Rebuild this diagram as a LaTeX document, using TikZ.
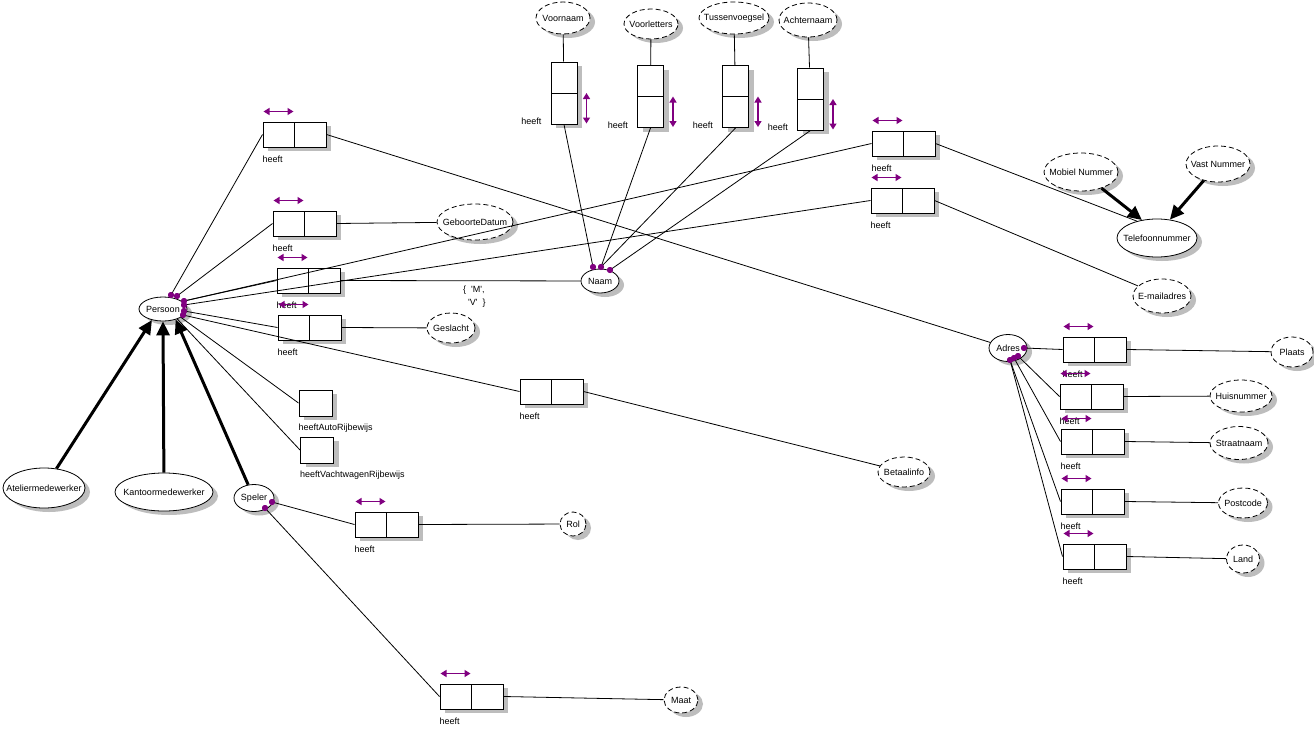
\documentclass[tikz,border=0pt]{standalone}
\usepackage{fontspec}
\setmainfont{Liberation Sans}
\usetikzlibrary{shapes.geometric,arrows.meta}
\definecolor{orm}{HTML}{800080}
\definecolor{shd}{HTML}{BDBDBD}
\tikzset{
 shadowof/.style={fill=shd,draw=none,xshift=5pt,yshift=-4pt},
 ent/.style={ellipse,draw,fill=white,inner sep=0pt,line width=0.8pt},
 val/.style={ent,dash pattern=on 5pt off 3pt},
 lbl/.style={inner sep=0pt},
 hshape/.style={rectangle,minimum width=63pt,minimum height=25pt,inner sep=0pt},
 vshape/.style={rectangle,minimum width=26pt,minimum height=62pt,inner sep=0pt},
 ushape/.style={rectangle,minimum width=33pt,minimum height=26pt,inner sep=0pt},
 hbox/.style={hshape,draw,fill=white,line width=1pt,
   path picture={\draw[line width=1pt] (path picture bounding box.north)--(path picture bounding box.south);}},
 vbox/.style={vshape,draw,fill=white,line width=1pt,
   path picture={\draw[line width=1pt] (path picture bounding box.west)--(path picture bounding box.east);}},
 ubox/.style={ushape,draw,fill=white,line width=1pt},
 lnk/.style={line width=0.8pt},
 sub/.style={line width=3pt,-{Triangle[width=13pt,length=14pt]}},
 uc/.style={orm,line width=1.4pt,{Triangle[width=7pt,length=6pt]}-{Triangle[width=7pt,length=6pt]}},
 pdot/.style={circle,fill=orm,inner sep=0pt,minimum size=6pt},
 hl/.style={anchor=north west,inner sep=0pt,yshift=-8.5pt},
 vhl/.style={anchor=base east,inner sep=0pt,xshift=-9pt},
}
% #1 kind (ent/val), #2 width, #3 height, #4 name, #5 position, #6 text
\newcommand\ellnode[6]{%
  \node[ellipse,inner sep=0pt,minimum width=#2,minimum height=#3,shadowof] at #5 {};
  \node[#1,minimum width=#2,minimum height=#3,label={[lbl]center:#6}] (#4) at #5 {};}
% #1 kind (h/v/u), #2 name, #3 position
\newcommand\factnode[3]{%
  \node[#1shape,shadowof] at #3 {};
  \node[#1box] (#2) at #3 {};}
\begin{document}
\begin{tikzpicture}[x=1pt,y=-1pt,every node/.style={font=\fontsize{9}{10}\selectfont}]
\useasboundingbox[fill=white] (0,0) rectangle (1314,736);

% ---------- entity and value ellipses ----------
\ellnode{ent}{48pt}{24pt}{persoon}{(163,309)}{Persoon}
\ellnode{ent}{82pt}{40pt}{atelier}{(44,488)}{Ateliermedewerker}
\ellnode{ent}{98pt}{38pt}{kantoor}{(164,492)}{Kantoormedewerker}
\ellnode{ent}{40pt}{27pt}{speler}{(254,498)}{Speler}
\ellnode{ent}{38pt}{24pt}{naam}{(600,281)}{Naam}
\ellnode{ent}{80pt}{38pt}{telefoon}{(1157,238)}{Telefoonnummer}
\ellnode{ent}{38pt}{27pt}{adres}{(1008,348)}{Adres}
\ellnode{val}{76pt}{36pt}{geboorte}{(475,222)}{GeboorteDatum}
\ellnode{val}{48pt}{30pt}{geslacht}{(451,328)}{Geslacht}
\ellnode{val}{52pt}{30pt}{betaal}{(904,472)}{Betaalinfo}
\ellnode{val}{26pt}{24pt}{rol}{(573,524)}{Rol}
\ellnode{val}{34pt}{26pt}{maat}{(681,700)}{Maat}
\ellnode{val}{54pt}{32pt}{voornaam}{(563,18)}{Voornaam}
\ellnode{val}{54pt}{30pt}{voorletters}{(651,24)}{Voorletters}
\ellnode{val}{70pt}{32pt}{tussen}{(734,18)}{Tussenvoegsel}
\ellnode{val}{58pt}{34pt}{achter}{(808,20)}{Achternaam}
\ellnode{val}{74pt}{38pt}{mobiel}{(1081,172)}{Mobiel Nummer}
\ellnode{val}{64pt}{36pt}{vast}{(1218,164)}{Vast Nummer}
\ellnode{val}{58pt}{34pt}{email}{(1162,296)}{E-mailadres}
\ellnode{val}{42pt}{30pt}{plaats}{(1292,352)}{Plaats}
\ellnode{val}{62pt}{32pt}{huis}{(1241,396)}{Huisnummer}
\ellnode{val}{58pt}{33pt}{straat}{(1239,443)}{Straatnaam}
\ellnode{val}{49pt}{30pt}{postcode}{(1243,503)}{Postcode}
\ellnode{val}{33pt}{28pt}{land}{(1243,559)}{Land}

% ---------- fact type boxes ----------
\factnode{h}{b1}{(294.5,134.5)}
\factnode{h}{b2}{(304.5,223.5)}
\factnode{h}{b3}{(308.5,280.5)}
\factnode{h}{b4}{(309.5,327.5)}
\factnode{h}{b5}{(551.5,391.5)}
\factnode{h}{btel}{(903.5,143.5)}
\factnode{h}{bmail}{(902.5,200.5)}
\factnode{h}{brol}{(386.5,524.5)}
\factnode{h}{bmaat}{(471.5,696.5)}
\factnode{h}{a1}{(1094.5,349.5)}
\factnode{h}{a2}{(1091.5,396.5)}
\factnode{h}{a3}{(1092.5,441.5)}
\factnode{h}{a4}{(1092.5,501.5)}
\factnode{h}{a5}{(1094.5,556.5)}
\factnode{v}{v1}{(564,93)}
\factnode{v}{v2}{(650.5,96.5)}
\factnode{v}{v3}{(735.5,96.5)}
\factnode{v}{v4}{(810.5,99)}
\factnode{u}{u1}{(315.5,403)}
\factnode{u}{u2}{(317,450)}

% ---------- labels ----------
\foreach \b in {b1,b2,b3,b4,b5,btel,bmail,brol,bmaat,a1,a2,a3,a4,a5}
  \node[hl] (l\b) at (\b.south west) {heeft};
\foreach \b in {v1,v2,v3,v4}
  \node[vhl] (l\b) at (\b.south west) {heeft};
\node[hl,yshift=1.5pt] (lu1) at (u1.south west) {heeftAutoRijbewijs};
\node[hl,yshift=1.5pt] (lu2) at (u2.south west) {heeftVachtwagenRijbewijs};
\node[anchor=west,inner sep=0pt] (mv1) at (463,290) {\{\ \ \textquotesingle M\textquotesingle,};
\node[anchor=west,inner sep=0pt] (mv2) at (468,303) {\textquotesingle V\textquotesingle\ \ \}};

% ---------- uniqueness constraints ----------
\foreach \b in {b1,b2,b3,b4,btel,bmail,brol,bmaat,a1,a2,a3,a4,a5}
  \draw[uc] ([xshift=1pt,yshift=10pt]\b.north west) -- ([xshift=31pt,yshift=10pt]\b.north west);
\foreach \b in {v1,v2,v3,v4}
  \draw[uc] ([xshift=9pt]\b.east) -- ([xshift=9pt,yshift=1pt]\b.south east);

% ---------- role dots ----------
\node[pdot] (p1) at (171,295) {};
\node[pdot] (p2) at (177,296) {};
\node[pdot] (p3) at (184,301) {};
\node[pdot] (p4) at (184,305) {};
\node[pdot] (p5) at (184,311) {};
\node[pdot] (p6) at (183,315) {};
\node[pdot] (n1) at (593,267) {};
\node[pdot] (n2) at (601,267) {};
\node[pdot] (n3) at (610,270) {};
\node[pdot] (s1) at (272,502) {};
\node[pdot] (s2) at (265,508) {};
\node[pdot] (d1) at (1024,348) {};
\node[pdot] (d2) at (1018,356) {};
\node[pdot] (d3) at (1014,358) {};
\node[pdot] (d4) at (1010,360) {};

% ---------- connectors ----------
\draw[lnk] (p1.center) -- (b1.west);
\draw[lnk] (p2.center) -- (b2.west);
\draw[lnk] (p3.center) -- (b3.west);
\draw[lnk] (p3.center) -- (btel.west);
\draw[lnk] (p4.center) -- (bmail.west);
\draw[lnk] (p5.center) -- (b4.west);
\draw[lnk] (p6.center) -- (b5.west);
\draw[lnk] (persoon.335) -- (u1.west);
\draw[lnk] (persoon.325) -- (u2.west);
\draw[lnk] (b1.east) -- (adres);
\draw[lnk] (b2.east) -- (geboorte);
\draw[lnk] (b3.east) -- (naam);
\draw[lnk] (b4.east) -- (geslacht);
\draw[lnk] (b5.east) -- (betaal);
\draw[lnk] (btel.east) -- (telefoon.140);
\draw[lnk] (bmail.east) -- (email);
\draw[lnk] (voornaam) -- (v1);
\draw[lnk] (voorletters) -- (v2);
\draw[lnk] (tussen) -- (v3);
\draw[lnk] (achter) -- (v4);
\draw[lnk] (v1.south) -- (n1.center);
\draw[lnk] (v2.south) -- (n2.center);
\draw[lnk] (v3.south) -- (n2.center);
\draw[lnk] (v4.south) -- (n3.center);
\draw[lnk] (s1.center) -- (brol.west);
\draw[lnk] (s2.center) -- (bmaat.west);
\draw[lnk] (brol.east) -- (rol);
\draw[lnk] (bmaat.east) -- (maat);
\draw[lnk] (d1.center) -- (a1.west);
\draw[lnk] (d2.center) -- (a2.west);
\draw[lnk] (d3.center) -- (a3.west);
\draw[lnk] (d4.center) -- (a4.west);
\draw[lnk] (d4.center) -- (a5.west);
\draw[lnk] (a1.east) -- (plaats);
\draw[lnk] (a2.east) -- (huis);
\draw[lnk] (a3.east) -- (straat);
\draw[lnk] (a4.east) -- (postcode);
\draw[lnk] (a5.east) -- (land);

% ---------- subtype arrows ----------
\draw[sub] (atelier) -- (persoon.225);
\draw[sub] (kantoor) -- (persoon.270);
\draw[sub] (speler) -- (persoon.320);
\draw[sub] (mobiel) -- (telefoon.130);
\draw[sub] (vast) -- (telefoon.55);

% redraw dots on top
\foreach \d in {p1,p2,p3,p4,p5,p6,n1,n2,n3,s1,s2,d1,d2,d3,d4}
  \fill[orm] (\d) circle (3pt);
\end{tikzpicture}
\end{document}
